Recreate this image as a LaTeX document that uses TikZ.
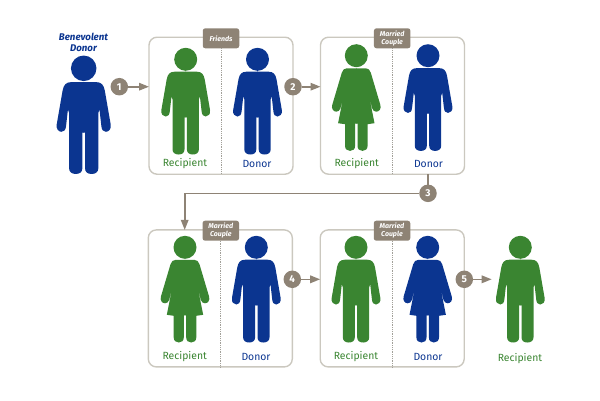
\documentclass[tikz,border=0pt]{standalone}
\usepackage{fontspec}
\setmainfont{Fira Sans}
\usetikzlibrary{arrows.meta}

\definecolor{donorblue}{HTML}{0B3590}
\definecolor{recipgreen}{HTML}{3A8531}
\definecolor{stepbrown}{HTML}{8E8375}
\definecolor{panelgray}{HTML}{CBC8BF}

\newcommand{\manhalf}{(-0.3,12.4) -- (11,12.4) .. controls (16,12.4) and (18,15) .. (19,20)
  -- (24.3,50.5) .. controls (25.1,55) and (22.3,57.2) .. (20,57.2) .. controls (17.5,57.2) and (16.3,55.5) .. (15.9,52)
  -- (14.2,37) -- (13.2,40) -- (13.2,90) .. controls (13.2,93.5) and (10.5,95.2) .. (7.2,95.2)
  .. controls (3.5,95.2) and (1.2,93.5) .. (1.2,90) -- (1.2,58) -- (-0.3,58) -- cycle}
\newcommand{\womanhalf}{(-0.3,12.6) -- (9.5,12.6) .. controls (12,12.6) and (13.5,14) .. (14.5,17)
  -- (24,49) .. controls (25.3,53) and (22.8,56) .. (20,56) .. controls (18,56) and (16.6,54.8) .. (15.8,52.5)
  -- (12.3,38) -- (18.2,67.5) -- (11.3,68.5) -- (11.3,90) .. controls (11.3,93.5) and (9,95.2) .. (6.2,95.2)
  .. controls (3.2,95.2) and (1.2,93.5) .. (1.2,90) -- (1.2,68) -- (-0.3,68) -- cycle}

\tikzset{
  man/.pic={
    \fill[#1] (0,0) circle[radius=11.5];
    \fill[#1] \manhalf;
    \fill[#1,xscale=-1] \manhalf;
  },
  woman/.pic={
    \fill[#1] (0,0) circle[radius=11.5];
    \fill[#1] \womanhalf;
    \fill[#1,xscale=-1] \womanhalf;
  },
  panel/.style={draw=panelgray,line width=1.4pt,rounded corners=8pt,minimum width=144pt,minimum height=137pt,outer sep=0pt},
  tagbox/.style={fill=stepbrown,rounded corners=2.5pt,minimum width=36.5pt,minimum height=20pt,inner sep=0pt,outer sep=0pt,
    text=white,align=center,font=\fontsize{7pt}{8.3pt}\selectfont\bfseries\itshape},
  stepnum/.style={circle,fill=stepbrown,minimum size=17.5pt,inner sep=0pt,outer sep=0pt,text=white,font=\fontsize{10pt}{10pt}\selectfont\bfseries},
  link/.style={draw=stepbrown,line width=1.6pt},
  divider/.style={draw=panelgray!80!black,line width=0.8pt,densely dotted},
  reciplabel/.style={text=recipgreen,font=\fontsize{10.4pt}{12pt}\selectfont},
  donorlabel/.style={text=donorblue,font=\fontsize{10.4pt}{12pt}\selectfont},
}

\begin{document}
\begin{tikzpicture}[x=1pt,y=-1pt,>={Triangle[length=10pt,width=7.5pt]}]
\useasboundingbox (0,0) rectangle (600,400);

  % panels
  \node[panel] (box1) at (221,105.7) {};
  \node[panel] (box2) at (392.5,105.7) {};
  \node[panel] (box3) at (220.3,298.4) {};
  \node[panel] (box4) at (392.2,298.4) {};

  \node[tagbox] (tag1) at (221,38.3) {Friends};
  \node[tagbox] (tag2) at (392.2,38.3) {Married\\Couple};
  \node[tagbox] (tag3) at (220.8,230.7) {Married\\Couple};
  \node[tagbox] (tag4) at (392,230.7) {Married\\Couple};

  \draw[divider] (tag1) -- (tag1 |- box1.south);
  \draw[divider] (tag2) -- (tag2 |- box2.south);
  \draw[divider] (tag3) -- (tag3 |- box3.south);
  \draw[divider] (tag4) -- (tag4 |- box4.south);

  % people
  \pic[scale=1.11] at (83.7,68.3) {man=donorblue};
  \pic at (185.7,59.3) {man=recipgreen};
  \pic at (257.5,59.3) {man=donorblue};
  \pic at (356.3,55.7) {woman=recipgreen};
  \pic at (428,55.7) {man=donorblue};
  \pic at (185,247.3) {woman=recipgreen};
  \pic at (256.3,247.3) {man=donorblue};
  \pic at (356,247.3) {man=recipgreen};
  \pic at (427.7,247.3) {woman=donorblue};
  \pic at (520.3,247.3) {man=recipgreen};

  % labels
  \node[text=donorblue,align=center,font=\fontsize{9.7pt}{10.5pt}\selectfont\bfseries\itshape] (top) at (83.5,42.5) {Benevolent\\Donor};
  \node[reciplabel] (rec1) at (185,163.5) {Recipient};
  \node[donorlabel] (don1) at (257,163.5) {Donor};
  \node[reciplabel] (rec2) at (356.7,163.5) {Recipient};
  \node[donorlabel] (don2) at (428.5,163.5) {Donor};
  \node[reciplabel] (rec3) at (184.7,356.5) {Recipient};
  \node[donorlabel] (don3) at (256,356.5) {Donor};
  \node[reciplabel] (rec4) at (356,356.5) {Recipient};
  \node[donorlabel] (don4) at (428,356.5) {Donor};
  \node[reciplabel] (rec5) at (520,358.5) {Recipient};

  % steps
  \node[stepnum] (s1) at (119.3,86.7) {1};
  \node[stepnum] (s2) at (293,86.7) {2};
  \node[stepnum] (s3) at (428,193.3) {3};
  \node[stepnum] (s4) at (292.3,279.3) {4};
  \node[stepnum] (s5) at (464.3,279.3) {5};
  \coordinate (end5) at (491.7,279.3);

  \draw[link,->] (s1) -- (s1 -| box1.west);
  \draw[link,->] (s2) -- (s2 -| box2.west);
  \draw[link] (s3) -- (s3 |- box2.south);
  \draw[link,->] (s3) -| (rec3 |- box3.north);
  \draw[link,->] (s4) -- (s4 -| box4.west);
  \draw[link,->] (s5) -- (end5);
\end{tikzpicture}
\end{document}
